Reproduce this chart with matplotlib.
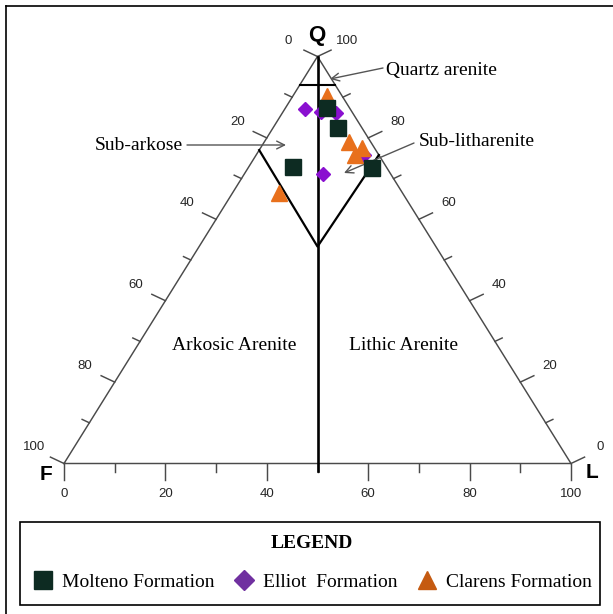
import matplotlib
matplotlib.use('Agg')
import matplotlib.pyplot as plt
from matplotlib.lines import Line2D
from matplotlib.patches import Rectangle

# ---------------- data (Q, F, L percentages) ----------------
molteno_Q = [87.3, 82.4, 72.8, 72.6]
molteno_F = [4.5, 4.8, 18.5, 3.0]
molteno_L = [8.2, 12.8, 8.7, 24.4]

elliot_Q = [87.1, 86.4, 86.0, 75.7, 71.2]
elliot_F = [8.9, 6.2, 3.3, 3.0, 13.3]
elliot_L = [4.0, 7.4, 10.7, 21.3, 15.5]

clarens_Q = [90.2, 79.1, 77.6, 75.8, 66.4]
clarens_F = [3.1, 4.3, 2.5, 4.7, 24.3]
clarens_L = [6.7, 16.6, 19.9, 19.5, 9.3]

series_labels = ['Molteno Formation', 'Elliot  Formation', 'Clarens Formation']
tick_values = [0, 20, 40, 60, 80, 100]
minor_values = [10, 30, 50, 70, 90]

# classification boundaries (Q %)
quartz_arenite_Q = 93.0
sub_left_Q = 77.0
sub_right_Q = 75.8
v_apex_Q = 53.3

# ---------------- helpers ----------------
W, H = 613, 614
X0, X1, YB, YT = 64.0, 571.0, 463.5, 56.5
SX = (X1 - X0) / 100.0     # px per x unit
SY = (YB - YT) / 100.0     # px per y unit


def tern(Q, F, L):
    Q = list(Q) if hasattr(Q, '__len__') else [Q]
    F = list(F) if hasattr(F, '__len__') else [F]
    L = list(L) if hasattr(L, '__len__') else [L]
    xs, ys = [], []
    for q, f, l in zip(Q, F, L):
        t = q + f + l
        xs.append((l + q / 2.0) / t * 100.0)
        ys.append(q / t * 100.0)
    return xs, ys


def p2d(px, py):
    return (px - X0) / SX, (YB - py) / SY


fig = plt.figure(figsize=(W / 100, H / 100), dpi=100)
ax = fig.add_axes([0, 0, 1, 1])
ax.set_xlim(-X0 / SX, 100 + (W - X1) / SX)
ax.set_ylim(-(H - YB) / SY, 100 + YT / SY)
ax.axis('off')

edge_c = '#4a4a4a'
tick_font = dict(family=['Liberation Sans', 'DejaVu Sans'], size=9.5, color='#262626')
serif = ['Liberation Serif', 'DejaVu Serif']

# triangle outline
tx, ty = tern([0, 0, 100, 0], [100, 0, 0, 100], [0, 100, 0, 0])
ax.plot(tx, ty, color=edge_c, lw=1.05, zorder=2)

# ticks
ux, uy = 0.9045, 0.4264
for v in tick_values + minor_values:
    major = v in tick_values
    ln = 15 if major else 8
    lb = 16 if major else 8
    # bottom axis (L)
    bx, by = tern(0, 100 - v, v)
    ax.plot([bx[0], bx[0]], [by[0], by[0] - lb / SY], color=edge_c, lw=1.05, zorder=2)
    # left axis (F)
    lx, ly = tern(100 - v, v, 0)
    ax.plot([lx[0], lx[0] - ux * ln / SX], [ly[0], ly[0] + uy * ln / SY], color=edge_c, lw=1.05, zorder=2)
    # right axis (Q)
    rx, ry = tern(v, 0, 100 - v)
    ax.plot([rx[0], rx[0] + ux * ln / SX], [ry[0], ry[0] + uy * ln / SY], color=edge_c, lw=1.05, zorder=2)
    if major:
        ax.text(bx[0], by[0] - 30.5 / SY, str(v), ha='center', va='center', **tick_font)
        ax.text(lx[0] - 29.5 / SX, ly[0] + 16 / SY, str(v), ha='center', va='center', **tick_font)
        ax.text(rx[0] + 29.5 / SX, ry[0] + 16 / SY, str(v), ha='center', va='center', **tick_font)

# vertex labels
vfont = dict(family=['Liberation Sans', 'DejaVu Sans'], weight='bold', color='black')
ax.text(*p2d(317, 36), 'Q', ha='center', va='center', size=16, **vfont)
ax.text(*p2d(46, 474), 'F', ha='center', va='center', size=15, **vfont)
ax.text(*p2d(592, 472), 'L', ha='center', va='center', size=15, **vfont)

# classification lines
qx, qy = tern([quartz_arenite_Q, quartz_arenite_Q], [100 - quartz_arenite_Q, 0], [0, 100 - quartz_arenite_Q])
ax.plot(qx, qy, color='black', lw=1.5, zorder=3)
cx, cy = tern([100, 0], [0, 50], [0, 50])
ax.plot(cx, [cy[0], cy[1] - 7.5 / SY], color='black', lw=1.9, zorder=3)
vx, vy = tern([sub_left_Q, v_apex_Q, sub_right_Q],
              [100 - sub_left_Q, (100 - v_apex_Q) / 2, 0],
              [0, (100 - v_apex_Q) / 2, 100 - sub_right_Q])
ax.plot(vx, vy, color='black', lw=1.6, zorder=3)

# data points
mx, my = tern(molteno_Q, molteno_F, molteno_L)
ax.plot(mx, my, ls='none', marker='s', ms=11.5, mfc='#0d2b22', mec='#0d2b22', zorder=5)
ex, ey = tern(elliot_Q, elliot_F, elliot_L)
ax.plot(ex, ey, ls='none', marker='D', ms=7.5, mfc='#8a10d0', mec='#8a10d0', zorder=4)
clx, cly = tern(clarens_Q, clarens_F, clarens_L)
ax.plot(clx, cly, ls='none', marker='^', ms=11, mfc='#e8701c', mec='#e8701c', zorder=4)

# annotations
arr = dict(arrowstyle='->', color='#555555', lw=1.0, mutation_scale=14, shrinkA=0, shrinkB=0)
ax.annotate('', xy=p2d(330, 79), xytext=p2d(383, 68), arrowprops=arr)
ax.text(*p2d(386, 70), 'Quartz arenite', ha='left', va='center', family=serif, size=14)
ax.annotate('', xy=p2d(286, 145), xytext=p2d(187, 145), arrowprops=arr)
ax.text(*p2d(183, 145), 'Sub-arkose', ha='right', va='center', family=serif, size=14)
ax.annotate('', xy=p2d(344, 173), xytext=p2d(414, 143), arrowprops=arr)
ax.text(*p2d(419, 142), 'Sub-litharenite', ha='left', va='center', family=serif, size=14)
ax.text(*p2d(234, 346), 'Arkosic Arenite', ha='center', va='center', family=serif, size=14)
ax.text(*p2d(403, 346), 'Lithic Arenite', ha='center', va='center', family=serif, size=14)

# legend box
fig.add_artist(Rectangle((19.5 / W, 1 - 605 / H), 580.5 / W, 83 / H, transform=fig.transFigure,
                         fill=False, edgecolor='black', lw=1.2))

# legend
handles = [
    Line2D([], [], ls='none', marker='s', ms=12.5, mfc='#0d2b22', mec='#0d2b22'),
    Line2D([], [], ls='none', marker='D', ms=10, mfc='#7030a0', mec='#7030a0'),
    Line2D([], [], ls='none', marker='^', ms=13, mfc='#c55a11', mec='#c55a11'),
]
leg = fig.legend(handles, series_labels, loc='upper center',
                 bbox_to_anchor=(24 / W, 1 - 527 / H, 576 / W, 0.0001),
                 mode='expand', ncol=3, borderaxespad=0, frameon=False, title='LEGEND',
                 title_fontproperties=dict(family=serif, weight='bold', size=14),
                 prop=dict(family=serif, size=14), handlelength=1.15, handletextpad=0.4,
                 borderpad=0.4, labelspacing=1.1, columnspacing=1.0)

# outer border (left and top)
fig.add_artist(Line2D([6 / W, 6 / W], [0, 1 - 6 / H], transform=fig.transFigure, color='black', lw=1.2))
fig.add_artist(Line2D([6 / W, 1], [1 - 6 / H, 1 - 6 / H], transform=fig.transFigure, color='black', lw=1.2))

fig.savefig('out.png', dpi=100)
